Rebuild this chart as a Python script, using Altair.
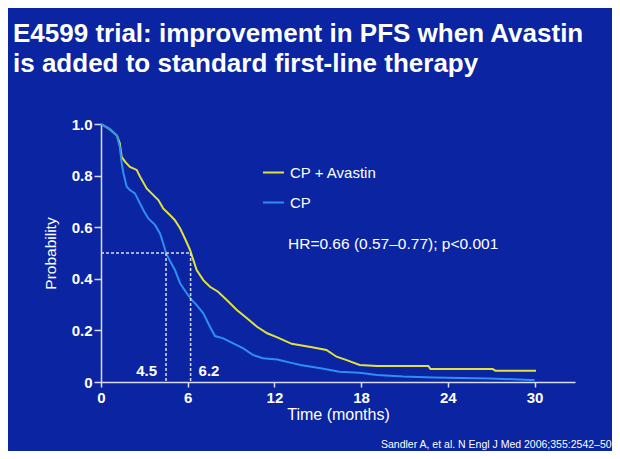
import altair as alt
import pandas as pd

title_lines = ["E4599 trial: improvement in PFS when Avastin",
               "is added to standard first-line therapy"]
series_names = ["CP + Avastin", "CP"]

avastin_t = [0, 0.6, 1.1, 1.3, 1.43, 1.66, 2.0, 2.47, 2.7, 3.16, 3.5, 3.97, 4.3, 4.77,
             5.1, 5.47, 5.8, 6.16, 6.39, 6.62, 7.08, 7.54, 8.1, 8.7, 9.4, 10.1, 10.8,
             11.5, 12.2, 13.2, 14.7, 15.6, 16.3, 17.0, 17.9, 19.1, 22.65, 22.8, 27.1,
             27.3, 30.1]
avastin_p = [1.0, 0.98, 0.955, 0.925, 0.873, 0.854, 0.834, 0.822, 0.796, 0.75, 0.731,
             0.705, 0.673, 0.647, 0.628, 0.596, 0.557, 0.512, 0.473, 0.434, 0.395, 0.369,
             0.35, 0.318, 0.279, 0.247, 0.214, 0.189, 0.173, 0.148, 0.134, 0.124, 0.098,
             0.085, 0.066, 0.062, 0.062, 0.05, 0.05, 0.044, 0.044]

cp_t = [0, 0.6, 1.1, 1.3, 1.43, 1.55, 1.78, 2.0, 2.35, 2.7, 2.93, 3.27, 3.74, 4.08,
        4.31, 4.5, 4.72, 5.12, 5.47, 5.93, 6.28, 6.62, 7.08, 7.54, 7.89, 8.46, 9.15,
        9.85, 10.5, 11.2, 12.2, 13.1, 13.8, 15.2, 16.5, 17.9, 19.1, 20.9, 23.0, 26.9,
        29.7, 30.0]
cp_p = [1.0, 0.98, 0.955, 0.91, 0.848, 0.81, 0.757, 0.744, 0.731, 0.692, 0.667, 0.634,
        0.609, 0.576, 0.537, 0.50, 0.475, 0.434, 0.383, 0.344, 0.318, 0.298, 0.266,
        0.214, 0.178, 0.169, 0.15, 0.13, 0.105, 0.092, 0.087, 0.075, 0.066, 0.053,
        0.04, 0.036, 0.027, 0.021, 0.017, 0.014, 0.008, 0.008]

median_values = [4.5, 6.2]
median_labels = ["4.5", "6.2"]
median_prob = 0.5
hr_text = "HR=0.66 (0.57\u20130.77); p<0.001"
citation = "Sandler A, et al. N Engl J Med 2006;355:2542\u201350"
x_ticks = [0, 6, 12, 18, 24, 30]
y_ticks = [0, 0.2, 0.4, 0.6, 0.8, 1.0]
x_title = "Time (months)"
y_title = "Probability"

BG = "#0a24a2"
FG = "#ffffff"
AXIS_C = "#dcdcf0"
FONT = "Liberation Sans"
colors = ["#e2e23c", "#2e8ff0"]

curves = pd.concat([
    pd.DataFrame({"t": avastin_t, "p": avastin_p, "arm": series_names[0]}),
    pd.DataFrame({"t": cp_t, "p": cp_p, "arm": series_names[1]}),
], ignore_index=True)
curves["order"] = range(len(curves))

xscale = alt.Scale(domain=[0, 32.8], nice=False, zero=False)
yscale = alt.Scale(domain=[0, 1], nice=False)

xaxis = alt.Axis(values=x_ticks, title=x_title, grid=False,
                 labelFontSize=15, labelFontWeight="bold", labelColor=FG,
                 labelPadding=3, labelFlush=False,
                 tickSize=5, tickColor=AXIS_C, tickWidth=1.5,
                 domainColor=AXIS_C, domainWidth=1.5,
                 titleFontSize=16, titleFontWeight="normal", titleColor=FG,
                 titlePadding=1)
yaxis = alt.Axis(values=y_ticks, title=y_title, grid=False,
                 labelExpr="datum.value == 0 ? '0' : format(datum.value, '.1f')",
                 labelFontSize=15, labelFontWeight="bold", labelColor=FG,
                 labelPadding=2,
                 tickSize=7, tickColor=AXIS_C, tickWidth=1.5,
                 domainColor=AXIS_C, domainWidth=1.5,
                 titleFontSize=15.5, titleFontWeight="normal", titleColor=FG,
                 titlePadding=13)

lines = alt.Chart(curves).mark_line(strokeWidth=2).encode(
    x=alt.X("t:Q", scale=xscale, axis=xaxis, title=x_title),
    y=alt.Y("p:Q", scale=yscale, axis=yaxis, title=y_title),
    color=alt.Color("arm:N",
                    scale=alt.Scale(domain=series_names, range=colors),
                    legend=alt.Legend(title=None, orient="none", legendX=161, legendY=37,
                                      symbolType="stroke", symbolSize=441,
                                      symbolStrokeWidth=2, labelFontSize=15,
                                      labelColor=FG, labelOffset=5, rowPadding=10,
                                      padding=0, labelFont=FONT)),
    order=alt.Order("order:Q"),
)

med = pd.DataFrame({"t": median_values, "p": [median_prob] * len(median_values),
                    "base": [0] * len(median_values), "label": median_labels})

vrules = alt.Chart(med).mark_rule(color=AXIS_C, strokeWidth=1.5, strokeDash=[3, 2]).encode(
    x=alt.X("t:Q", scale=xscale, title=x_title),
    y=alt.Y("p:Q", scale=yscale, title=y_title),
    y2="base:Q",
)

hline = pd.DataFrame({"t": [0], "end": [max(median_values)], "p": [median_prob]})
hrule = alt.Chart(hline).mark_rule(color=AXIS_C, strokeWidth=1.5, strokeDash=[3, 2]).encode(
    x=alt.X("t:Q", scale=xscale, title=x_title),
    x2="end:Q",
    y=alt.Y("p:Q", scale=yscale, title=y_title),
)

med_left = alt.Chart(med.iloc[[0]]).mark_text(
    align="right", baseline="alphabetic", dx=-9, fontSize=15, fontWeight="bold",
    color=FG, font=FONT
).encode(x=alt.X("t:Q", scale=xscale, title=x_title), y=alt.value(252), text="label:N")

med_right = alt.Chart(med.iloc[[1]]).mark_text(
    align="left", baseline="alphabetic", dx=8, fontSize=15, fontWeight="bold",
    color=FG, font=FONT
).encode(x=alt.X("t:Q", scale=xscale, title=x_title), y=alt.value(252), text="label:N")

hr = alt.Chart(pd.DataFrame({"txt": [hr_text]})).mark_text(
    align="left", baseline="alphabetic", fontSize=15.5, color=FG, font=FONT
).encode(x=alt.value(187), y=alt.value(125), text="txt:N")

cite = alt.Chart(pd.DataFrame({"txt": [citation]})).mark_text(
    align="left", baseline="alphabetic", fontSize=10.5, color=FG, font=FONT
).encode(x=alt.value(280), y=alt.value(324), text="txt:N")

ttl = alt.Chart(pd.DataFrame({"txt": ["\n".join(title_lines)]})).mark_text(
    align="left", baseline="alphabetic", fontSize=26, fontWeight="bold", color=FG,
    font=FONT, lineBreak="\n", lineHeight=29.5
).encode(x=alt.value(-88), y=alt.value(-82), text="txt:N")

chart = alt.layer(lines, vrules, hrule, med_left, med_right, hr, cite, ttl).properties(
    width=474, height=258,
    padding={"left": 93, "top": 116, "right": 37, "bottom": 69},
    autosize=alt.AutoSizeParams(type="none"),
    background=BG,
).configure(font=FONT).configure_view(stroke="transparent", strokeWidth=0)

chart.save("out.html", embed_options={"renderer": "svg", "actions": False})
